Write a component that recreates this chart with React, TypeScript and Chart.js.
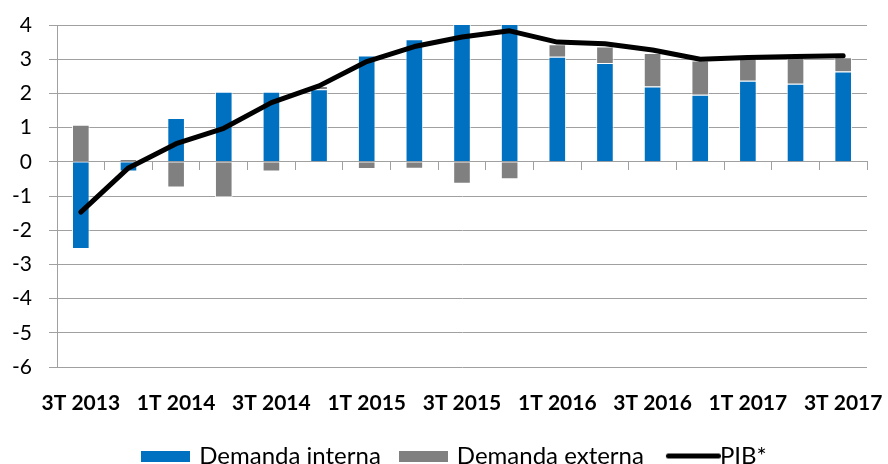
import React, { useEffect, useRef } from "react";
import { Chart, registerables } from "chart.js";

Chart.register(...registerables);

const categories = [
  "3T 2013", "4T 2013", "1T 2014", "2T 2014", "3T 2014", "4T 2014",
  "1T 2015", "2T 2015", "3T 2015", "4T 2015", "1T 2016", "2T 2016",
  "3T 2016", "4T 2016", "1T 2017", "2T 2017", "3T 2017",
];

const demandaInterna = [
  -2.55, -0.28, 1.28, 2.05, 2.05, 2.12, 3.11, 3.58, 4.3, 4.35, 3.07, 2.89,
  2.2, 1.96, 2.37, 2.28, 2.64,
];

const demandaExterna = [
  1.08, 0.08, -0.75, -1.04, -0.28, 0.1, -0.21, -0.2, -0.64, -0.51, 0.37, 0.48,
  0.98, 1.0, 0.68, 0.78, 0.42,
];

const pib = [
  -1.47, -0.18, 0.53, 0.98, 1.73, 2.22, 2.93, 3.37, 3.65, 3.83, 3.5, 3.45,
  3.27, 3.0, 3.05, 3.08, 3.1,
];

const yMin = -6;
const yMax = 4;

const FONT = "Lato, 'Noto Sans', sans-serif";
const GRID = "#a0a0a0";
const BLUE = "#0070C0";
const GRAY = "#808080";

const shiftLegend = {
  id: "shiftLegend",
  afterLayout(chart: any) {
    const l = chart.legend;
    if (l) {
      l.left += 22;
      l.right += 22;
    }
  },
};

function rectSymbol(w: number, h: number, color: string) {
  const c = document.createElement("canvas");
  c.width = w;
  c.height = h;
  const ctx = c.getContext("2d")!;
  ctx.fillStyle = color;
  ctx.fillRect(0, 0, w, h);
  return c;
}

function lineSymbol(totalW: number, start: number, thick: number, color: string) {
  const c = document.createElement("canvas");
  c.width = totalW;
  c.height = thick + 4;
  const ctx = c.getContext("2d")!;
  ctx.strokeStyle = color;
  ctx.lineWidth = thick;
  ctx.lineCap = "round";
  ctx.beginPath();
  ctx.moveTo(start + thick / 2, c.height / 2);
  ctx.lineTo(totalW - thick / 2, c.height / 2);
  ctx.stroke();
  return c;
}

export default function App() {
  const ref = useRef<HTMLCanvasElement>(null);

  useEffect(() => {
    if (!ref.current) return;
    const symbols = [
      rectSymbol(49, 11, BLUE),
      rectSymbol(49, 11, GRAY),
      lineSymbol(69, 14, 5, "#000000"),
    ];
    const defaultGen = (Chart as any).defaults.plugins.legend.labels.generateLabels;
    const chart = new Chart(ref.current, {
      type: "bar",
      plugins: [shiftLegend],
      data: {
        labels: categories,
        datasets: [
          {
            type: "bar",
            label: "Demanda interna",
            data: demandaInterna,
            backgroundColor: BLUE,
            borderColor: "rgba(255,255,255,0.8)",
            borderWidth: 1,
            barPercentage: 0.37,
            categoryPercentage: 1,
            stack: "d",
            order: 1,
          } as any,
          {
            type: "bar",
            label: "Demanda externa",
            data: demandaExterna,
            backgroundColor: GRAY,
            borderColor: "rgba(255,255,255,0.8)",
            borderWidth: 1,
            barPercentage: 0.37,
            categoryPercentage: 1,
            stack: "d",
            order: 1,
          } as any,
          {
            type: "line",
            label: "PIB*",
            data: pib,
            borderColor: "#000000",
            backgroundColor: "#000000",
            borderWidth: 5,
            pointRadius: 0,
            pointHoverRadius: 0,
            tension: 0,
            borderCapStyle: "round",
            borderJoinStyle: "round",
            stack: "p",
            order: 0,
          } as any,
        ],
      },
      options: {
        animation: false,
        responsive: false,
        layout: { padding: { top: 25, left: 0, right: 21, bottom: 0 } },
        plugins: {
          tooltip: { enabled: false },
          legend: {
            position: "bottom",
            labels: {
              usePointStyle: true,
              pointStyleWidth: 43,
              boxHeight: 11,
              padding: 21,
              color: "#000",
              font: { family: FONT, size: 24 },
              generateLabels: (chart: any) =>
                defaultGen(chart)
                  .sort((a: any, b: any) => a.datasetIndex - b.datasetIndex)
                  .map((item: any) => ({
                    ...item,
                    pointStyle: symbols[item.datasetIndex],
                  })),
            },
          },
        },
        scales: {
          x: {
            stacked: true,
            offset: true,
            grid: { display: false, drawTicks: false },
            border: { display: false },
            ticks: {
              autoSkip: false,
              maxRotation: 0,
              minRotation: 0,
              padding: 24,
              color: "#000",
              font: { family: FONT, size: 21, weight: "bold" },
              callback: (_v: any, i: number) => (i % 2 === 0 ? categories[i] : ""),
            },
            afterFit: (s: any) => {
              s.height = 56;
              s.paddingLeft = 0;
              s.paddingRight = 0;
            },
          },
          x2: {
            type: "category",
            position: { y: 0 },
            offset: true,
            z: 1,
            grid: {
              offset: true,
              drawOnChartArea: false,
              drawTicks: true,
              tickLength: 8,
              color: GRID,
            },
            border: { display: true, color: GRID },
            ticks: { display: false },
          },
          y: {
            stacked: true,
            min: yMin,
            max: yMax,
            ticks: {
              stepSize: 1,
              padding: 17,
              color: "#000",
              font: { family: FONT, size: 21 },
            },
            grid: { color: GRID, tickLength: 8 },
            border: { display: true, color: GRID },
            afterFit: (s: any) => {
              s.width = 57;
              s.paddingTop = 0;
              s.paddingBottom = 0;
            },
          },
        } as any,
      },
    } as any);
    return () => chart.destroy();
  }, []);

  return (
    <div
      style={{
        position: "fixed",
        left: 0,
        top: 0,
        width: 888,
        height: 464,
        overflow: "hidden",
        background: "#fff",
      }}
    >
      <canvas ref={ref} width={888} height={478} style={{ display: "block" }} />
    </div>
  );
}
